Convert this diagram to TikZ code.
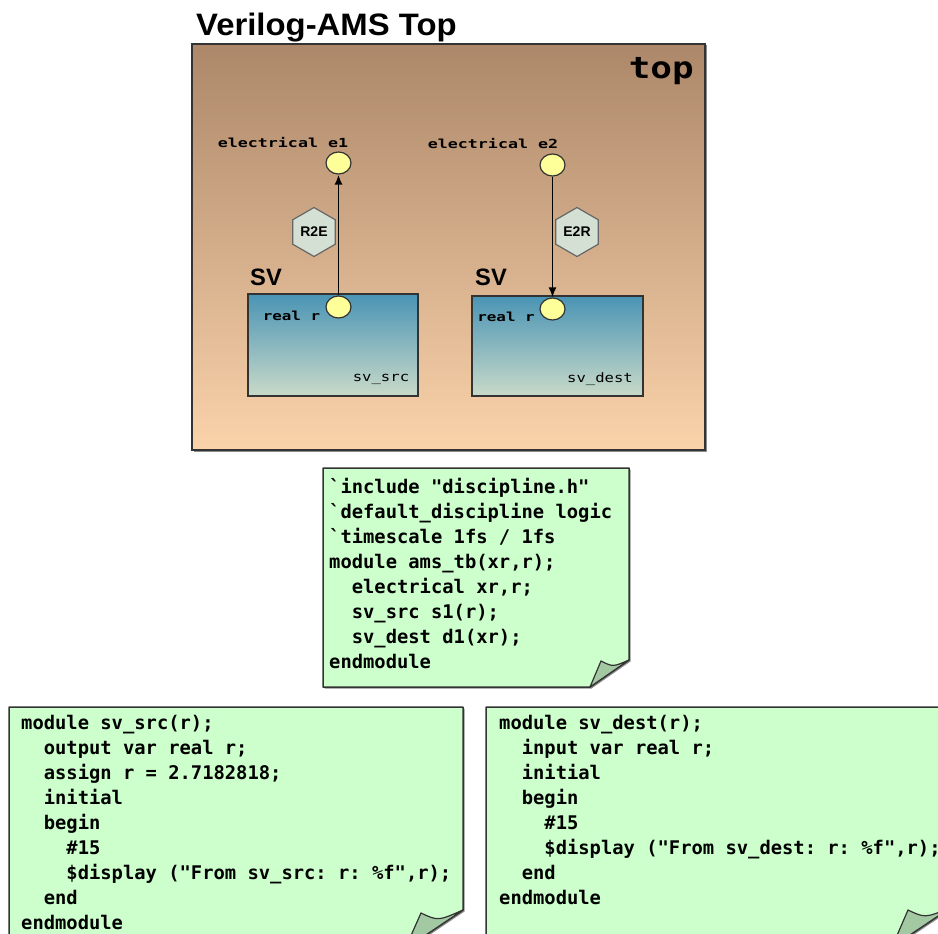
\documentclass[tikz,border=0pt]{standalone}
\usepackage{fontspec}
\usepackage{graphicx}
\usetikzlibrary{arrows.meta,shapes.geometric,shadows,positioning}

\newfontfamily\codefont{DejaVu Sans Mono}[Ligatures=TeXOff]
\newfontfamily\headfont{Liberation Sans}
\newcommand{\codeind}{\phantom{xx}}

\definecolor{topdark}{HTML}{AC8769}
\definecolor{toplight}{HTML}{FAD3AB}
\definecolor{svtop}{HTML}{4A94B4}
\definecolor{svbot}{HTML}{C9DAC9}
\definecolor{notegreen}{HTML}{CCFFCC}
\definecolor{foldgreen}{HTML}{A3C9A3}
\definecolor{portyellow}{HTML}{FFFF99}
\definecolor{convgray}{HTML}{D3E0D3}
\definecolor{edgegray}{HTML}{333333}

\begin{document}
\begin{tikzpicture}[x=1pt,y=-1pt,>={Latex[length=10pt,width=8pt]}]
      \tikzstyle{shadowed}=[drop shadow={shadow xshift=1.5pt,shadow yshift=-1.5pt,opacity=.45,fill=black}]
      \tikzstyle{topbox}=[rectangle,draw=edgegray,line width=1.5pt,top color=topdark,bottom color=toplight,minimum width=513pt,minimum height=406pt,inner sep=0pt,shadowed]
      \tikzstyle{svbox}=[rectangle,draw=edgegray,line width=1.5pt,top color=svtop,bottom color=svbot,inner sep=0pt]
      \tikzstyle{port}=[ellipse,draw=edgegray,line width=1.2pt,fill=portyellow,minimum width=25pt,minimum height=22pt,inner sep=0pt]
      \tikzstyle{conv}=[regular polygon,regular polygon sides=6,shape border rotate=30,draw=gray!80!black,line width=1.2pt,fill=convgray,minimum size=49pt,inner sep=0pt,font=\headfont\bfseries\fontsize{14}{14}\selectfont]
      \tikzstyle{lbl}=[inner sep=0pt,anchor=base,font=\codefont\bfseries\fontsize{12.5}{12.5}\selectfont]
      \tikzstyle{inst}=[inner sep=0pt,anchor=base,font=\codefont\fontsize{13}{13}\selectfont]
      \tikzstyle{sv}=[inner sep=0pt,anchor=base west,font=\headfont\bfseries\fontsize{23.7}{24}\selectfont]
      \tikzstyle{note}=[draw=edgegray,line width=1.5pt,fill=notegreen,line join=round,shadowed]
      \tikzstyle{flap}=[draw=edgegray,line width=1.2pt,fill=foldgreen,line join=round]
      \tikzstyle{code}=[inner sep=0pt,anchor=north west,align=left,font=\codefont\bfseries\fontsize{18.8}{25}\selectfont\frenchspacing]

      \path[use as bounding box,fill=white] (0,0) rectangle (938,934);
      \clip (0,0) rectangle (938,934);

      % Verilog-AMS top level
      \node[inner sep=0pt,anchor=base west,font=\headfont\bfseries\fontsize{31}{31}\selectfont] (title) at (196,36) {\scalebox{1.06}[1]{Verilog-AMS Top}};
      \node[topbox] (top) at (448.5,247) {};
      \node[inner sep=0pt,anchor=base east] (toplbl) at (694,78) {\scalebox{1.2}[1]{\codefont\bfseries\fontsize{30}{30}\selectfont top}};

      % SV blocks
      \node[svbox,minimum width=170pt,minimum height=102pt] (src) at (333,345) {};
      \node[svbox,minimum width=171pt,minimum height=100pt] (dest) at (557.5,346) {};
      \node[sv] (sv1) at (250,285) {SV};
      \node[sv] (sv2) at (475,285) {SV};
      \node[inst] (srclbl) at (381,381) {\scalebox{1.2}[1]{sv\_src}};
      \node[inst] (destlbl) at (600,382) {\scalebox{1.2}[1]{sv\_dest}};

      % ports
      \node[port] (e1) at (338.5,163) {};
      \node[port] (e2) at (552.5,165) {};
      \node[port] (sr) at (338.5,307) {};
      \node[port] (dr) at (552.5,309) {};
      \node[lbl] (e1lbl) at (283,147) {\scalebox{1.33}[1]{electrical e1}};
      \node[lbl] (e2lbl) at (493,148) {\scalebox{1.33}[1]{electrical e2}};
      \node[lbl] (srlbl) at (291.5,320) {\scalebox{1.27}[1]{real r}};
      \node[lbl] (drlbl) at (506,321) {\scalebox{1.27}[1]{real r}};

      \path[->,line width=1.8pt]
      (sr) edge (e1)
      (e2) edge (dr);

      \node[conv] (r2e) at (314,232) {R2E};
      \node[conv] (e2r) at (577,232) {E2R};

      % code notes
      \path[note] (323,468) -- (629,468) -- (629,660) -- (590,687) -- (323,687) -- cycle;
      \path[flap] (590,687) -- (601,661) .. controls (613,667) .. (629,660) -- cycle;
      \node[code] (tbcode) at (329,478) {%
`include "discipline.h"\\
`default\_discipline logic\\
`timescale 1fs / 1fs\\
module ams\_tb(xr,r);\\
\codeind electrical xr,r;\\
\codeind sv\_src s1(r);\\
\codeind sv\_dest d1(xr);\\
endmodule};

      \path[note] (9,707) -- (463,707) -- (463,910) -- (405,949) -- (9,949) -- cycle;
      \path[flap] (405,949) -- (421,913) .. controls (438,921) .. (463,910) -- cycle;
      \node[code] (srccode) at (21,715) {%
module sv\_src(r);\\
\codeind output var real r;\\
\codeind assign r = 2.7182818;\\
\codeind initial\\
\codeind begin\\
\codeind\codeind\#15\\
\codeind\codeind\$display ("From sv\_src: r: \%f",r);\\
\codeind end\\
endmodule};

      \path[note] (486,707) -- (950,707) -- (950,908) -- (892,947) -- (486,947) -- cycle;
      \path[flap] (892,947) -- (908,910) .. controls (925,918) .. (950,908) -- cycle;
      \node[code] (destcode) at (499,715) {%
module sv\_dest(r);\\
\codeind input var real r;\\
\codeind initial\\
\codeind begin\\
\codeind\codeind\#15\\
\codeind\codeind\$display ("From sv\_dest: r: \%f",r);\\
\codeind end\\
endmodule};
\end{tikzpicture}
\end{document}
